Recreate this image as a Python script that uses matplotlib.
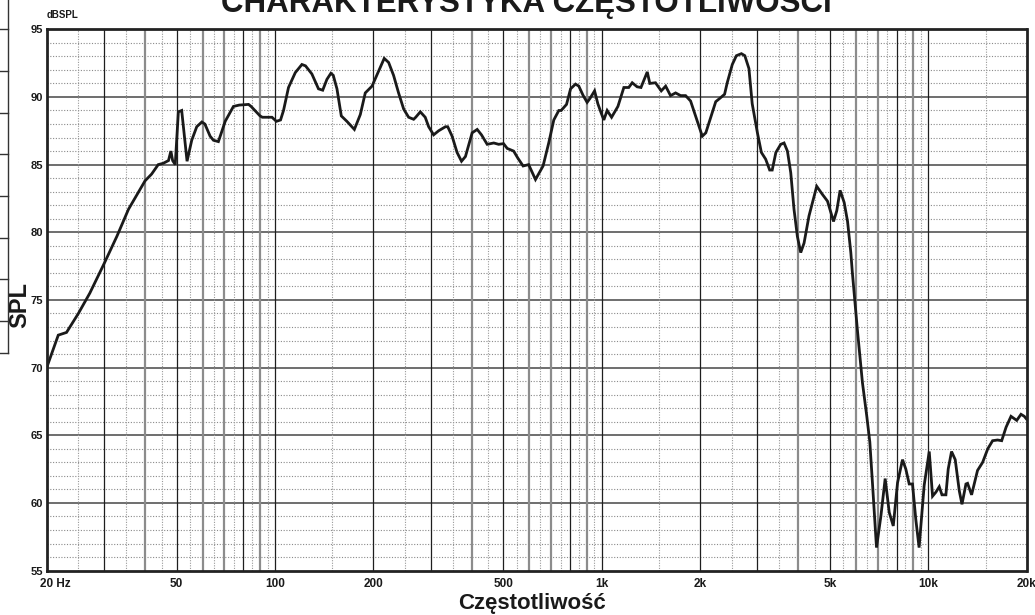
import matplotlib
matplotlib.use("Agg")
import matplotlib.pyplot as plt
from matplotlib.lines import Line2D
import matplotlib.transforms as mtransforms

plt.rcParams['font.family'] = ['Liberation Sans', 'DejaVu Sans']

# ---- data ----
freq_hz = [20, 21.7, 23.0, 25.0, 27.1, 30, 32.8, 35.6, 40, 41.9, 43.9, 45.5, 47.2, 48.0,
           48.6, 49.5, 50.6, 51.8, 53.8, 55.6, 57.6, 59.7, 61, 63.3, 64.8, 67.1, 70.4,
           74.6, 77.7, 83, 84.5, 90, 91.5, 97.9, 101, 104, 106.2, 110, 115.4, 120.9, 124,
           129.7, 135.9, 140, 144.2, 148.3, 150.8, 154.8, 159.6, 166, 175, 182.5, 189,
           198.2, 207.6, 216, 222.8, 230.7, 239, 247.8, 256.6, 265.8, 269.7, 278.6, 288.4,
           295.5, 306, 317, 332.6, 338, 348.6, 361, 372.5, 383, 401.5, 416, 428.8, 446.4,
           467.6, 484, 501, 514, 538, 553.5, 575, 598, 627.5, 662, 688.9, 714, 739.6, 752,
           781, 803.6, 832, 851.6, 878.5, 903, 922, 951.8, 974, 997.6, 1016, 1040, 1073,
           1122, 1170, 1211, 1241, 1285, 1320, 1380, 1405, 1462, 1523, 1571, 1626, 1685,
           1746, 1808, 1873, 1964, 2034, 2085, 2159, 2236, 2315, 2380, 2425, 2513, 2587,
           2680, 2745, 2826, 2892, 3000, 3085, 3180, 3271, 3330, 3417, 3536, 3620, 3707,
           3795, 3883, 3976, 4071, 4168, 4315, 4557, 4744, 4917, 5131, 5250, 5374, 5531,
           5664, 5796, 5860, 6070, 6290, 6487, 6627, 6750, 6946, 7162, 7384, 7599, 7818,
           8058, 8345, 8542, 8748, 8953, 9163, 9379, 9721, 10075, 10313, 10561, 10813,
           11020, 11330, 11516, 11790, 12100, 12450, 12690, 13050, 13200, 13580, 14160,
           14680, 15220, 15750, 16310, 16790, 17320, 17930, 18670, 19240, 19690, 20000]
spl_db = [70.0, 72.4, 72.6, 74.0, 75.5, 77.7, 79.7, 81.7, 83.8, 84.3, 85.0, 85.1, 85.3, 86.0,
          85.3, 85.0, 88.9, 89.0, 85.25, 86.8, 87.8, 88.15, 88.0, 87.1, 86.8, 86.7, 88.2,
          89.3, 89.4, 89.45, 89.3, 88.6, 88.5, 88.5, 88.2, 88.3, 89.0, 90.7, 91.8, 92.4, 92.3,
          91.7, 90.6, 90.5, 91.3, 91.75, 91.6, 90.6, 88.6, 88.2, 87.6, 88.7, 90.3,
          90.8, 91.9, 92.85, 92.55, 91.6, 90.3, 89.1, 88.5, 88.35, 88.5, 88.9, 88.5,
          87.8, 87.2, 87.5, 87.8, 87.8, 87.1, 85.9, 85.25, 85.6, 87.35, 87.6, 87.2, 86.5,
          86.6, 86.5, 86.55, 86.2, 86.0, 85.5, 84.9, 85.0, 83.9, 84.9, 86.6, 88.3, 89.0, 89.0,
          89.45, 90.6, 90.95, 90.8, 90.1, 89.6, 89.9, 90.45, 89.5, 88.8, 88.3, 89.0, 88.5,
          89.3, 90.7, 90.7, 91.05, 90.75, 90.7, 91.85, 91.0, 91.05, 90.45, 90.8, 90.1, 90.3,
          90.1, 90.1, 89.7, 88.2, 87.1, 87.35, 88.5, 89.65, 89.95, 90.2, 91.05, 92.4, 93.05,
          93.2, 93.05, 92.1, 89.5, 87.35, 85.9, 85.4, 84.6, 84.6, 85.9, 86.5, 86.6, 86.0,
          84.4, 81.7, 79.7, 78.5, 79.2, 81.2, 83.4, 82.8, 82.3, 80.8, 81.6, 83.1, 82.2,
          80.8, 78.5, 77.0, 72.8, 68.9, 66.4, 64.5, 61.5, 56.7, 59.0, 61.8, 59.3, 58.3,
          61.5, 63.2, 62.5, 61.4, 61.4, 58.8, 56.7, 61.3, 63.8, 60.5, 60.8, 61.2,
          60.6, 60.6, 62.5, 63.8, 63.2, 60.9, 59.9, 61.4, 61.45, 60.6, 62.4,
          63.0, 64.0, 64.6, 64.65, 64.6, 65.6, 66.4, 66.1, 66.55, 66.4, 66.2]

x_ticks = [20, 50, 100, 200, 500, 1000, 2000, 5000, 10000, 20000]
x_tick_labels = ['20 Hz', '50', '100', '200', '500', '1k', '2k', '5k', '10k', '20k']
y_ticks = [55, 60, 65, 70, 75, 80, 85, 90, 95]
y_tick_labels = ['55', '60', '65', '70', '75', '80', '85', '90', '95']

title_text = 'CHARAKTERYSTYKA CZĘSTOTLIWOŚCI'
x_label = 'Częstotliwość'
y_label = 'SPL'
unit_label = 'dBSPL'

W, H = 1035, 615
fig = plt.figure(figsize=(W / 100, H / 100), dpi=100)
fig.patch.set_facecolor('white')

left_px, right_px, top_px, bottom_px = 46.7, 1026.5, 29.3, 570.6
ax = fig.add_axes([left_px / W, 1 - bottom_px / H,
                   (right_px - left_px) / W, (bottom_px - top_px) / H])
ax.set_xscale('log')
ax.set_xlim(20, 20000)
ax.set_ylim(55, 95)

# grid: horizontal
for db in range(56, 95):
    if db % 5 == 0:
        ax.axhline(db, color='#6e6e6e', lw=1.4, zorder=1)
    else:
        ax.axhline(db, color='#8a8a8a', lw=0.8, ls=(0, (1, 1.5)), zorder=1)

# grid: vertical
for dec in [10, 100, 1000, 10000]:
    for m in range(1, 10):
        f = m * dec
        if 20 < f < 20000:
            if m in (1, 2, 3, 5, 8):
                ax.axvline(f, color='#1e1e1e', lw=0.9, zorder=1)
            else:
                ax.axvline(f, color='#8c8c8c', lw=1.6, zorder=1)
        fh = (m + 0.5) * dec
        if 20 < fh < 20000:
            ax.axvline(fh, color='#9a9a9a', lw=0.8, ls=(0, (1, 1.3)), zorder=1)

ax.plot(freq_hz, spl_db, color='#1a1a1a', lw=2.0, zorder=3, solid_joinstyle='miter')

for s in ax.spines.values():
    s.set_color('#222222')
    s.set_linewidth(2.0)
    s.set_zorder(4)

ax.set_xticks(x_ticks)
ax.set_xticklabels(x_tick_labels, fontsize=8.5, fontweight='bold')
ax.xaxis.set_minor_locator(matplotlib.ticker.NullLocator())
ax.set_yticks(y_ticks)
ax.set_yticklabels(y_tick_labels, fontsize=8, fontweight='bold')
ax.tick_params(axis='both', length=0, colors='#1a1a1a')
ax.tick_params(axis='x', pad=5)
ax.tick_params(axis='y', pad=2.5)

lbl0 = ax.get_xticklabels()[0]
lbl0.set_horizontalalignment('left')
lbl0.set_transform(lbl0.get_transform() + mtransforms.ScaledTranslation(-7 / 100, 0, fig.dpi_scale_trans))

# texts
fig.text(526.5 / W, 1 - 12 / H, title_text, ha='center', va='baseline',
         fontsize=22.5, fontweight='bold', color='#1a1a1a')
fig.text(47 / W, 1 - 15.5 / H, unit_label, ha='left', va='center',
         fontsize=7, fontweight='bold', color='#1a1a1a')
fig.text(19.5 / W, 1 - 305 / H, y_label, ha='center', va='center', rotation=90,
         fontsize=17, fontweight='bold', color='#1a1a1a')
fig.text(532 / W, 1 - 604 / H, x_label, ha='center', va='center',
         fontsize=16, fontweight='bold', color='#1a1a1a')

# cut-off box at the left edge
box_rows = [29.3, 70.7, 112.7, 154.3, 196, 237.7, 279.3, 321, 352.7]
for yy in box_rows:
    fig.add_artist(Line2D([0, 7.5 / W], [1 - yy / H, 1 - yy / H], color='#333333', lw=1.0))
fig.add_artist(Line2D([7.5 / W, 7.5 / W], [1, 1 - 352.7 / H], color='#333333', lw=1.0))

fig.savefig('out.png', dpi=100, facecolor='white')
